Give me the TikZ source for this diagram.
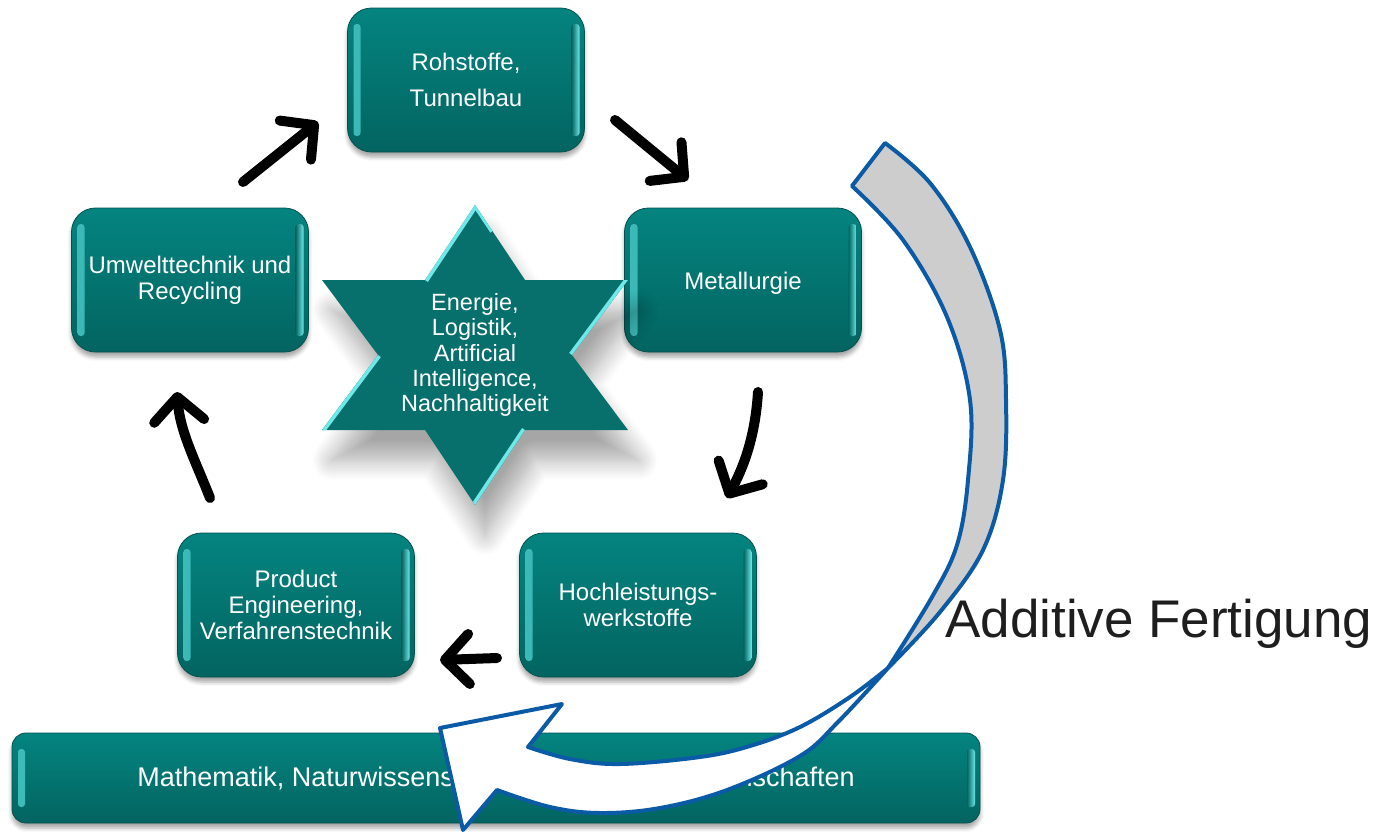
\documentclass[tikz,border=0pt]{standalone}
\usepackage{fontspec}
\setmainfont{Liberation Sans}
\usetikzlibrary{arrows.meta,shadows,shadows.blur,calc}
\definecolor{tealA}{RGB}{4,132,128}
\definecolor{tealB}{RGB}{3,100,96}
\definecolor{tealE}{RGB}{4,80,78}
\definecolor{starC}{RGB}{8,112,108}
\definecolor{hl}{RGB}{110,232,232}
\definecolor{arrblue}{RGB}{11,90,165}
\definecolor{arrgrey}{RGB}{205,205,205}
\definecolor{txtdark}{RGB}{30,30,30}
\tikzset{
  bevel/.style={path picture={
      \shade[rounded corners=3pt, left color=hl!55!tealA, right color=tealA]
        ([xshift=6pt,yshift=-16pt]path picture bounding box.north west)
        rectangle ([xshift=13pt,yshift=16pt]path picture bounding box.south west);
      \shade[rounded corners=3pt, left color=tealB, right color=hl]
        ([xshift=-13pt,yshift=-16pt]path picture bounding box.north east)
        rectangle ([xshift=-5pt,yshift=16pt]path picture bounding box.south east);
    }},
  tbox/.style={rectangle, rounded corners=24pt, minimum width=237pt,
    minimum height=144pt, top color=tealA, bottom color=tealB, draw=tealE,
    line width=0.8pt, text=white, align=center,
    font=\fontsize{24}{26}\selectfont,
    execute at begin node={\rule{0pt}{23pt}},
    blur shadow={shadow xshift=0pt, shadow yshift=-5pt, shadow blur radius=4pt, shadow opacity=35},
    bevel},
  basebar/.style={tbox, rounded corners=14pt, minimum width=968pt, minimum height=90pt,
    font=\fontsize{27}{30}\selectfont},
  flow/.style={line width=10pt, line cap=round, line join=round, black,
    -{Straight Barb[length=24pt,width=50pt,line width=10pt,round]}},
  bigarrow/.style={draw=arrblue, line width=4pt, line join=round},
}
\begin{document}
\begin{tikzpicture}[x=1pt,y=-1pt]
\useasboundingbox (0,0) rectangle (1386,833);

% boxes
\node[tbox] (roh) at (466,80) {Rohstoffe,\\[10pt]Tunnelbau};
\node[tbox] (met) at (743,280) {Metallurgie};
\node[tbox] (umw) at (190,280) {Umwelttechnik und\\Recycling};
\node[tbox] (hoch) at (638,605) {Hochleistungs-\\werkstoffe};
\node[tbox] (prod) at (296,605) {Product\\Engineering,\\Verfahrenstechnik};
\node[basebar] (bar) at (496,778) {Mathematik, Naturwissenschaften, Ingenieurwissenschaften};

% star
\coordinate (s1) at (475,205);
\coordinate (s2) at (525,280);
\coordinate (s3) at (628,280);
\coordinate (s4) at (572,355);
\coordinate (s5) at (628,430);
\coordinate (s6) at (525,430);
\coordinate (s7) at (475,505);
\coordinate (s8) at (425,430);
\coordinate (s9) at (322,430);
\coordinate (s10) at (378,355);
\coordinate (s11) at (322,280);
\coordinate (s12) at (425,280);
\fill[starC, blur shadow={shadow xshift=10pt, shadow yshift=-30pt, shadow blur radius=20pt, shadow blur steps=14, shadow opacity=35}]
  (s1)--(s2)--(s3)--(s4)--(s5)--(s6)--(s7)--(s8)--(s9)--(s10)--(s11)--(s12)--cycle;
\begin{scope}
  \clip (s1)--(s2)--(s3)--(s4)--(s5)--(s6)--(s7)--(s8)--(s9)--(s10)--(s11)--(s12)--cycle;
  \draw[hl, line width=7pt] (s1)--(s12);
  \draw[hl, line width=5pt] (s1)--($(s1)!0.35!(s2)$);
  \draw[hl, line width=7pt] (s3)--(s4);
  \draw[hl, line width=7pt] (s10)--(s9);
  \draw[hl, line width=7pt] (s6)--(s7);
\end{scope}
\node[align=center, text=white, font=\fontsize{23.5}{25.3}\selectfont] (star) at (475,355)
  {Energie,\\Logistik,\\Artificial\\Intelligence,\\Nachhaltigkeit};

% cycle arrows
\coordinate (a1s) at (243,182); \coordinate (a1e) at (318,122);
\coordinate (a2s) at (615,120); \coordinate (a2e) at (688,180);
\coordinate (a3s) at (758,392); \coordinate (a3e) at (727,498);
\coordinate (a4s) at (497,658); \coordinate (a4e) at (440,660);
\coordinate (a5s) at (210,498); \coordinate (a5e) at (177,392);
\draw[flow] (a1s) -- (a1e);
\draw[flow] (a2s) -- (a2e);
\draw[flow] (a3s) .. controls (755,440) and (742,470) .. (a3e);
\draw[flow] (a4s) -- (a4e);
\draw[flow] (a5s) .. controls (196,462) and (180,432) .. (a5e);

% big curved arrow: back (grey) part
\coordinate (X) at (888,668);
\draw[bigarrow, fill=arrgrey]
  plot[smooth, tension=0.6] coordinates {(885,143) (930,183) (970,247) (1000,330) (1006,400) (1003,480) (983,550) (940,612) (888,668)}
  -- plot[smooth, tension=0.6] coordinates {(888,668) (932,597) (957,545) (968,480) (970,400) (947,317) (903,240) (852,186)}
  -- cycle;
% front (white) part with head
\draw[bigarrow, fill=white]
  plot[smooth, tension=0.6] coordinates {(888,668) (838,722) (800,756) (727,790) (660,808) (600,813) (550,807) (497,790)}
  -- (463,830) -- (440,728) -- (562,704) -- (528,747)
  -- plot[smooth, tension=0.6] coordinates {(528,747) (570,759) (620,764) (700,757) (750,746) (800,727) (850,697) (888,668)}
  -- cycle;

\node[anchor=base west, inner sep=0pt, text=txtdark, font=\fontsize{53}{60}\selectfont] (af) at (945,637) {Additive Fertigung};
\end{tikzpicture}
\end{document}
